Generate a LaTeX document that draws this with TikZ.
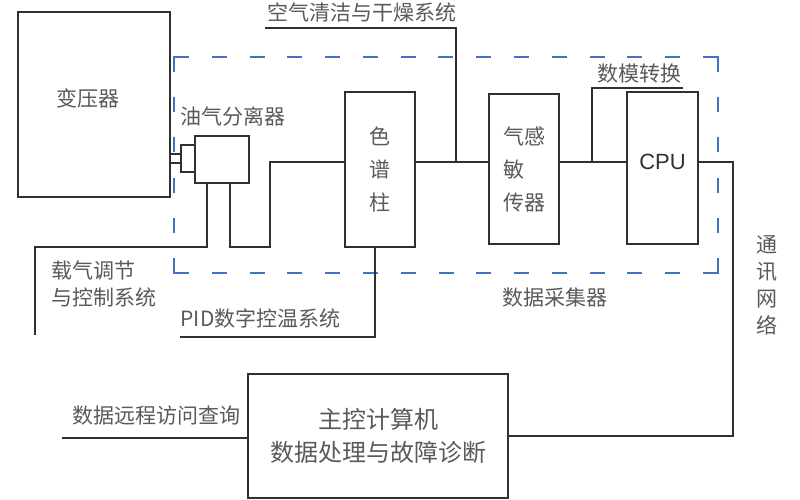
\documentclass[tikz,border=0pt]{standalone}
\usepackage{fontspec}
\setmainfont{Noto Sans CJK SC}
\newfontfamily\cpufont{Liberation Sans}
\begin{document}
\begin{tikzpicture}[x=1pt,y=-1pt,
  line width=1.4pt,
  box/.style={draw=lineC, rectangle, inner sep=0pt},
  lbl/.style={text=textC, font=\fontsize{21}{24}\selectfont, inner sep=0pt},
  big/.style={text=textC, font=\fontsize{24}{33}\selectfont, inner sep=0pt, align=center},
  wire/.style={draw=lineC, line width=1.4pt},
  hframe/.style={draw=dashC, line width=2pt, dash pattern=on 15pt off 22.78pt},
  vframe/.style={draw=dashC, line width=2pt, dash pattern=on 15pt off 25.2pt}]
\definecolor{lineC}{HTML}{303030}
\definecolor{textC}{HTML}{5A5A5A}
\definecolor{dashC}{HTML}{4472C4}
\useasboundingbox (0,0) rectangle (800,500);
\fill[white] (0,0) rectangle (800,500);

% dashed acquisition frame, corners as L shapes
\coordinate (f1) at (174,57);
\coordinate (f2) at (718,57);
\coordinate (f3) at (718,273);
\coordinate (f4) at (174,273);
\draw[hframe] (f1) -- (f2);
\draw[vframe] (f2) -- (f3);
\draw[hframe] (f3) -- (f4);
\draw[vframe] (f4) -- (f1);
\fill[dashC] ([xshift=-1pt,yshift=1pt]f1) rectangle ([xshift=1pt,yshift=-1pt]f1);
\fill[dashC] ([xshift=-1pt,yshift=1pt]f2) rectangle ([xshift=1pt,yshift=-1pt]f2);
\fill[dashC] ([xshift=-1pt,yshift=1pt]f3) rectangle ([xshift=1pt,yshift=-1pt]f3);
\fill[dashC] ([xshift=-1pt,yshift=1pt]f4) rectangle ([xshift=1pt,yshift=-1pt]f4);

% boxes
\node[box, minimum width=152pt, minimum height=185pt] (trans) at (94,104.5) {};
\node[lbl] (transT) at (88,98) {变压器};
\node[box, minimum width=14pt, minimum height=27pt] (sepS) at (188,158.5) {};
\node[box, minimum width=54pt, minimum height=47pt] (sep) at (222,159.5) {};
\node[box, minimum width=70pt, minimum height=155pt, text=textC, font=\fontsize{21}{33}\selectfont, align=center] (col) at (380,169.5) {色\\谱\\柱};
\node[box, minimum width=70pt, minimum height=150pt, text=textC, font=\fontsize{21}{33}\selectfont, align=left] (sens) at (524,169) {气感\\敏\\传器};
\node[box, minimum width=71pt, minimum height=152pt] (cpu) at (662.5,168) {};
\node[inner sep=0pt, font=\cpufont\fontsize{22}{24}\selectfont, text=lineC] (cpuT) at (662.5,162) {CPU};
\node[box, minimum width=260pt, minimum height=124pt, big] (pc) at (378,436) {主控计算机\\数据处理与故障诊断};

% labels
\node[lbl] (sepL) at (233,116) {油气分离器};
\node[lbl] (airL) at (362,12) {空气清洁与干燥系统};
\node[lbl] (dmL) at (639,74) {数模转换};
\node[lbl] (daqL) at (555,298) {数据采集器};
\node[lbl, align=center, font=\fontsize{21}{27}\selectfont] (netL) at (767,285) {通\\讯\\网\\络};
\node[lbl, align=left, anchor=west, font=\fontsize{21}{27}\selectfont] (carL) at (51,284) {载气调节\\与控制系统};
\node[lbl, anchor=west] (pidL) at (180,318) {PID数字控温系统};
\node[lbl, anchor=west] (qL) at (72,416) {数据远程访问查询};

% coordinates
\coordinate (pA) at (0,154);
\coordinate (pB) at (0,163);
\coordinate (ca) at (35,247);
\coordinate (caEnd) at (35,335);
\coordinate (m0) at (270,247);
\coordinate (m1) at (270,162);
\coordinate (j1) at (456,162);
\coordinate (air1) at (456,28);
\coordinate (air2) at (265,28);
\coordinate (pidEnd) at (180,337);
\coordinate (j2) at (592,162);
\coordinate (dmEnd) at (683,88);
\coordinate (net1) at (733,162);
\coordinate (qEnd) at (62,438);

% connectors
\draw[wire] (trans.east |- pA) -- (sepS.west |- pA);
\draw[wire] (trans.east |- pB) -- (sepS.west |- pB);
\draw[wire] ([xshift=-15pt]sep.south) |- (ca) -- (caEnd);
\draw[wire] ([xshift=8pt]sep.south) |- (m0) -- (m1) -- (col.west |- m1);
\draw[wire] (col.east |- j1) -- (sens.west |- j1);
\draw[wire] (j1) -- (air1) -- (air2);
\draw[wire] ([xshift=-5pt]col.south) |- (pidEnd);
\draw[wire] (sens.east |- j2) -- (cpu.west |- j2);
\draw[wire] (j2) |- (dmEnd);
\draw[wire] (cpu.east |- net1) -- (net1) |- (pc.east);
\draw[wire] (qEnd) -- (pc.west |- qEnd);
\end{tikzpicture}
\end{document}
